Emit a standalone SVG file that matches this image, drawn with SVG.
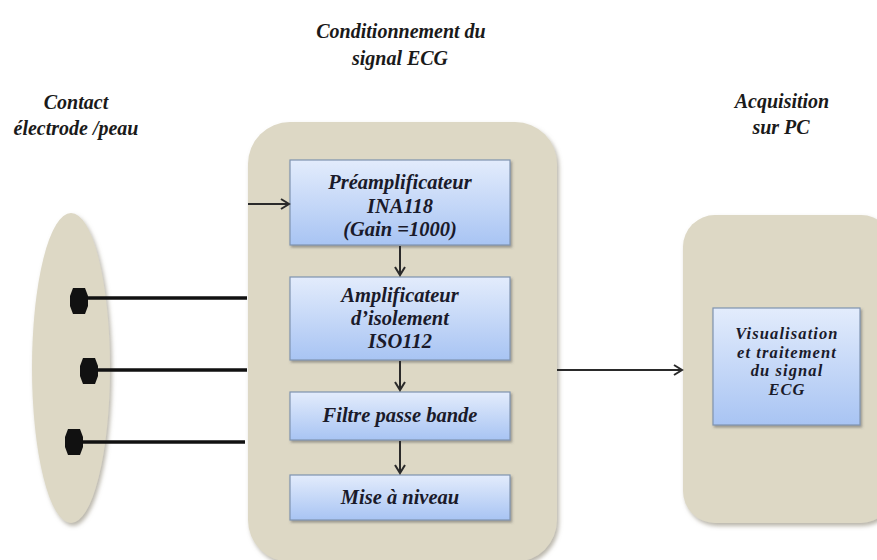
<svg xmlns="http://www.w3.org/2000/svg" width="877" height="560" viewBox="0 0 877 560">
<style>
.lbl{font-family:"Liberation Serif","Times New Roman",serif;font-weight:bold;font-style:italic;font-size:20px;fill:#1a1a1a;text-anchor:middle}
.btxt{font-family:"Liberation Serif","Times New Roman",serif;font-weight:bold;font-style:italic;font-size:20.5px;fill:#1a1a2a;text-anchor:middle}
.vtxt{font-family:"Liberation Serif","Times New Roman",serif;font-weight:bold;font-style:italic;font-size:16.5px;letter-spacing:1.1px;fill:#1a1a2a;text-anchor:middle}
.panel{fill:#ddd8c5;filter:url(#sh)}
.box{fill:url(#bg);stroke:#7f93b0;stroke-width:1.2;filter:url(#sh2)}
.wire{stroke:#111;stroke-width:3.5;fill:none}
.arr{stroke:#2a2a2a;stroke-width:2;fill:none;marker-end:url(#ah)}
.dot{fill:#111}
</style>
<defs>
<linearGradient id="bg" x1="0" y1="0" x2="0" y2="1">
<stop offset="0" stop-color="#e3ecfc"/>
<stop offset="1" stop-color="#a8c4f3"/>
</linearGradient>
<filter id="sh" x="-10%" y="-10%" width="130%" height="130%">
<feDropShadow dx="2" dy="3" stdDeviation="2" flood-color="#8a8470" flood-opacity="0.6"/>
</filter>
<filter id="sh2" x="-10%" y="-10%" width="130%" height="130%">
<feDropShadow dx="1.5" dy="2" stdDeviation="1.2" flood-color="#555" flood-opacity="0.5"/>
</filter>
<marker id="ah" markerWidth="12" markerHeight="12" refX="10" refY="6" orient="auto" markerUnits="userSpaceOnUse">
<path d="M2,1 L10,6 L2,11" fill="none" stroke="#2a2a2a" stroke-width="2"/>
</marker>
</defs>
<rect width="877" height="560" fill="#ffffff"/>

<g id="titles">
<text class="lbl" x="401" y="38">Conditionnement du</text>
<text class="lbl" x="400" y="65">signal ECG</text>
<text class="lbl" x="76" y="109">Contact</text>
<text class="lbl" x="76" y="135">électrode /peau</text>
<text class="lbl" x="782" y="108">Acquisition</text>
<text class="lbl" x="781" y="134">sur PC</text>
</g>

<g id="peau">
<ellipse cx="71" cy="368" rx="39" ry="155" fill="#ddd8c5" filter="url(#sh)"/>
</g>

<g id="conditionnement">
<rect class="panel" x="248" y="122" width="309" height="440" rx="42"/>
</g>

<g id="acquisition">
<rect class="panel" x="683" y="215" width="210" height="308" rx="32"/>
</g>

<g id="preampli">
<rect class="box" x="290" y="160" width="220" height="85"/>
<text class="btxt" x="400" y="189">Préamplificateur</text>
<text class="btxt" x="400" y="213">INA118</text>
<text class="btxt" x="400" y="236">(Gain =1000)</text>
</g>
<g id="isolement">
<rect class="box" x="290" y="277" width="220" height="83"/>
<text class="btxt" x="400" y="302">Amplificateur</text>
<text class="btxt" x="400" y="325">d’isolement</text>
<text class="btxt" x="400" y="348">ISO112</text>
</g>
<g id="filtre">
<rect class="box" x="290" y="392" width="220" height="48"/>
<text class="btxt" x="400" y="422">Filtre passe bande</text>
</g>
<g id="niveau">
<rect class="box" x="290" y="475" width="220" height="45"/>
<text class="btxt" x="400" y="504">Mise à niveau</text>
</g>
<g id="visualisation">
<rect class="box" x="713" y="308" width="147" height="117"/>
<text class="vtxt" x="787" y="339">Visualisation</text>
<text class="vtxt" x="787" y="357.5">et traitement</text>
<text class="vtxt" x="787" y="376">du signal</text>
<text class="vtxt" x="787" y="394.5">ECG</text>
</g>

<g id="connectors">
<line class="wire" x1="82" y1="298" x2="247" y2="298"/>
<line class="wire" x1="92" y1="370" x2="247" y2="370"/>
<line class="wire" x1="77" y1="442" x2="245" y2="442"/>
<path class="dot" d="M73,288 L85,288 L88,296 L88,306 L85,314 L73,314 L70,306 L70,296 Z"/>
<path class="dot" d="M83,358 L95,358 L98,366 L98,376 L95,384 L83,384 L80,376 L80,366 Z"/>
<path class="dot" d="M68,429 L80,429 L83,437 L83,447 L80,455 L68,455 L65,447 L65,437 Z"/>
<line class="arr" x1="248" y1="204" x2="289" y2="204"/>
<line class="arr" x1="400" y1="246" x2="400" y2="275"/>
<line class="arr" x1="400" y1="361" x2="400" y2="390"/>
<line class="arr" x1="400" y1="441" x2="400" y2="473"/>
<line class="arr" x1="557" y1="370" x2="682" y2="370"/>
</g>
</svg>
